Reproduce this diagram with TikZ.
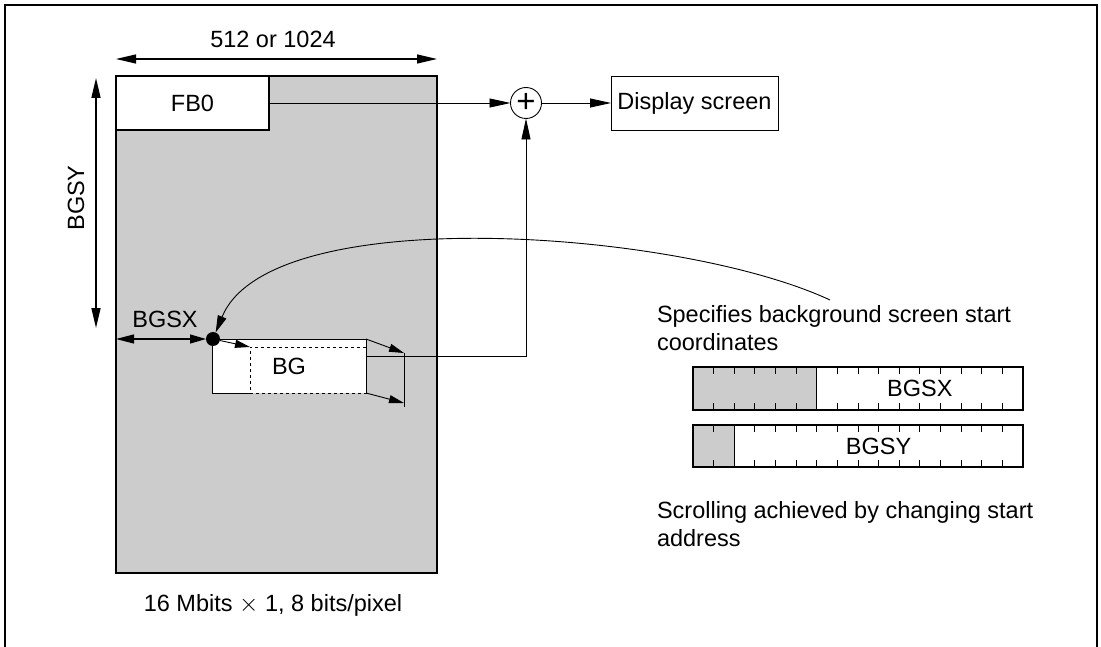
\documentclass[tikz,border=0pt]{standalone}
\usepackage{fontspec}
\setmainfont{Liberation Sans}
\usetikzlibrary{arrows.meta}
\definecolor{memgray}{HTML}{CCCCCC}
\begin{document}
\begin{tikzpicture}[x=1pt,y=-1pt,
  every node/.style={font=\fontsize{23.5}{28}\selectfont, inner sep=0pt, outer sep=0pt},
  boxline/.style={draw, line width=1.2pt},
  thinline/.style={line width=0.9pt},
  bigtips/.style={{Triangle[length=20pt,width=9pt]}-{Triangle[length=20pt,width=9pt]}},
  medtip/.style={-{Triangle[length=21pt,width=9pt]}},
  smalltip/.style={-{Triangle[length=15pt,width=8pt]}},
  curvetip/.style={-{Triangle[length=17pt,width=9pt]}}
]
\useasboundingbox (0,0) rectangle (1101,647);
\draw[line width=2pt] (5,660) -- (5,5) -- (1097,5) -- (1097,660);

% memory
\node[boxline, fill=memgray, anchor=north west, minimum width=321, minimum height=497] (mem) at (116,76) {};
\node[boxline, fill=white, anchor=north west, minimum width=153, minimum height=54] (fb0) at (116,76) {FB0};

% sum and display
\node[draw, thinline, circle, fill=white, minimum size=31, font=\fontsize{33}{33}\selectfont] (sum) at (526,103) {+};
\node[boxline, thinline, fill=white, minimum width=167, minimum height=54] (disp) at (694.5,103) {Display screen};

% BG window
\node[fill=white, anchor=north west, minimum width=154, minimum height=54] (bg) at (212,339) {BG};
\node[draw, thinline, dashed, anchor=south east, minimum width=116, minimum height=46] (view) at (bg.south east) {};
\draw[thinline] (view.south west) -- (bg.south west) -- (bg.north west) -- (bg.north east) -- (bg.south east);
\node[circle, fill=black, minimum size=14] (dot) at (213,339) {};

\coordinate (vt) at (404,353);
\coordinate (vb) at (404,407);
\coordinate (vbt) at (404,403);
\coordinate (bgo) at (366,356);
\draw[thinline] (vt) -- (vb);
\draw[thinline, smalltip] (bg.north east) -- (vt);
\draw[thinline, smalltip] (bg.south east) -- (vbt);
\draw[thinline, smalltip] (dot) -- (view.north west);
\draw[thinline, medtip] (bgo) -| (sum.south);

% connectors
\draw[thinline, medtip] (fb0.east) -- (sum.west);
\draw[thinline, medtip] (sum.east) -- (disp.west);

% dimensions
\coordinate (wL) at (116,59);
\coordinate (wR) at (437,59);
\draw[line width=1.2pt, bigtips] (wL) -- (wR);
\node[anchor=base] (wlab) at (273,48) {512 or 1024};

\coordinate (hT) at (96,78);
\coordinate (hB) at (96,328);
\draw[line width=1.6pt, bigtips] (hT) -- (hB);
\node[rotate=90] (hlab) at (76,198) {BGSY};

\coordinate (xL) at (116,339);
\draw[line width=1.2pt, {Triangle[length=18pt,width=9pt]}-{Triangle[length=16pt,width=9pt]}] (xL) -- (dot);
\node[anchor=base] (xlab) at (165,327) {BGSX};

% curve
\coordinate (cs) at (830,300);
\draw[thinline, curvetip] (cs) .. controls (680,230) and (270,200) .. (dot);

% texts
\node[anchor=base west] (spec1) at (657,322) {Specifies background screen start};
\node[anchor=base west] (spec2) at (657,350) {coordinates};
\node[anchor=base west] (scr1) at (657,518) {Scrolling achieved by changing start};
\node[anchor=base west] (scr2) at (657,546) {address};
\node[anchor=base] (cap) at (273,611) {16 Mbits $\times$ 1, 8 bits/pixel};

% registers
\node[boxline, fill=memgray, anchor=north west, minimum width=123.75, minimum height=43] (rxg) at (693,367) {};
\node[boxline, fill=white, anchor=north west, minimum width=206.25, minimum height=43] (rxw) at (rxg.north east) {BGSX};
\node[boxline, fill=memgray, anchor=north west, minimum width=41.25, minimum height=42] (ryg) at (693,425) {};
\node[boxline, fill=white, anchor=north west, minimum width=288.75, minimum height=42] (ryw) at (ryg.north east) {BGSY};
\foreach \i in {1,...,15}{
  \draw[thinline] ({693+\i*20.625},367) -- ++(0,7);
  \draw[thinline] ({693+\i*20.625},410) -- ++(0,-7);
  \draw[thinline] ({693+\i*20.625},425) -- ++(0,7);
  \draw[thinline] ({693+\i*20.625},467) -- ++(0,-7);
}
\end{tikzpicture}
\end{document}
